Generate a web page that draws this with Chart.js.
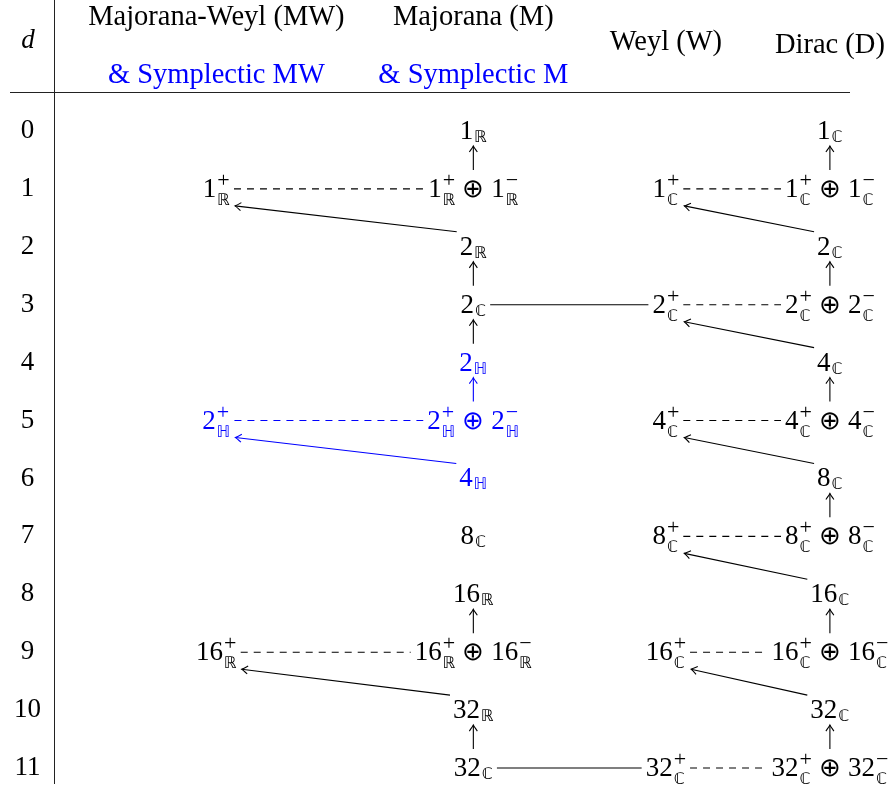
<!DOCTYPE html>
<html>
<head>
<meta charset="utf-8">
<script src="https://cdn.jsdelivr.net/npm/chart.js@4.4.1/dist/chart.umd.min.js"></script>
<style>
  html, body { margin: 0; padding: 0; background: #fff; }
  #wrap { width: 891px; height: 787px; }
</style>
</head>
<body>
<div id="wrap"><canvas id="chart"></canvas></div>
<script>
// rows of the table: spacetime dimension d
const dims = [0, 1, 2, 3, 4, 5, 6, 7, 8, 9, 10, 11];

// spinor content of each column, one entry per d (null = empty cell)
const mwSpinors = [null, '1_ℝ^+', null, null, null, '2_ℍ^+', null, null, null, '16_ℝ^+', null, null];
const mSpinors  = ['1_ℝ', '1_ℝ^+ ⊕ 1_ℝ^-', '2_ℝ', '2_ℂ', '2_ℍ', '2_ℍ^+ ⊕ 2_ℍ^-', '4_ℍ', '8_ℂ', '16_ℝ', '16_ℝ^+ ⊕ 16_ℝ^-', '32_ℝ', '32_ℂ'];
const wSpinors  = [null, '1_ℂ^+', null, '2_ℂ^+', null, '4_ℂ^+', null, '8_ℂ^+', null, '16_ℂ^+', null, '32_ℂ^+'];
const dSpinors  = ['1_ℂ', '1_ℂ^+ ⊕ 1_ℂ^-', '2_ℂ', '2_ℂ^+ ⊕ 2_ℂ^-', '4_ℂ', '4_ℂ^+ ⊕ 4_ℂ^-', '8_ℂ', '8_ℂ^+ ⊕ 8_ℂ^-', '16_ℂ', '16_ℂ^+ ⊕ 16_ℂ^-', '32_ℂ', '32_ℂ^+ ⊕ 32_ℂ^-'];

const columns    = ['MW', 'M', 'W', 'D'];
const headers    = ['Majorana-Weyl (MW)', 'Majorana (M)', 'Weyl (W)', 'Dirac (D)'];
const subHeaders = ['& Symplectic MW', '& Symplectic M', null, null];

// links between cells: [fromCol, fromD, toCol, toD]
const arrows = [
  ['M', 1, 'M', 0], ['M', 3, 'M', 2], ['M', 4, 'M', 3], ['M', 5, 'M', 4], ['M', 9, 'M', 8], ['M', 11, 'M', 10],
  ['D', 1, 'D', 0], ['D', 3, 'D', 2], ['D', 5, 'D', 4], ['D', 7, 'D', 6], ['D', 9, 'D', 8], ['D', 11, 'D', 10],
  ['M', 2, 'MW', 1], ['M', 6, 'MW', 5], ['M', 10, 'MW', 9],
  ['D', 2, 'W', 1], ['D', 4, 'W', 3], ['D', 6, 'W', 5], ['D', 8, 'W', 7], ['D', 10, 'W', 9]
];
const dashed = [
  ['MW', 1, 'M', 1], ['MW', 5, 'M', 5], ['MW', 9, 'M', 9],
  ['W', 1, 'D', 1], ['W', 3, 'D', 3], ['W', 5, 'D', 5], ['W', 7, 'D', 7], ['W', 9, 'D', 9], ['W', 11, 'D', 11]
];
const solid = [['M', 3, 'W', 3], ['M', 11, 'W', 11]];

// layout (not data)
const colX = { MW: 19.4, M: 50.1, W: 73.1, D: 92.7 };
const headY = [25, 25, 50, 53];
const subHeadY = 83;
const BLUE = '#0000ff';
const MAIN = '27px "Liberation Serif"';
const SUB = '16px "DejaVu Sans"';
const SUP = '22px "Liberation Serif"';
const OPF = '200 26px "DejaVu Sans"';
const HEAD = '28.5px "Liberation Serif"';
const OPGAP = 36;

const spinorCols = [mwSpinors, mSpinors, wSpinors, dSpinors];

function parseTerm(s) {
  const m = s.match(/^(\d+)_(.)(?:\^([+-]))?$/);
  return { num: m[1], field: m[2], sign: m[3] === '-' ? '\u2212' : m[3] };
}

function termWidth(ctx, t) {
  ctx.font = MAIN;
  const nw = ctx.measureText(t.num).width;
  ctx.font = SUB;
  const fw = ctx.measureText(t.field).width;
  ctx.font = SUP;
  const sw = t.sign ? ctx.measureText(t.sign).width : 0;
  return { nw: nw, w: nw + 1 + Math.max(fw, sw) };
}

function nodeInfo(ctx, text) {
  const terms = text.split(' ⊕ ').map(parseTerm);
  const widths = terms.map(t => termWidth(ctx, t));
  const w = widths.reduce((a, b) => a + b.w, 0) + OPGAP * (terms.length - 1);
  return { terms, widths, w, blue: text.indexOf('ℍ') >= 0 };
}

function drawNode(ctx, n, cx, cy) {
  const base = cy + 8;
  let x = cx - n.w / 2;
  ctx.fillStyle = n.blue ? BLUE : '#000';
  ctx.textAlign = 'left';
  ctx.textBaseline = 'alphabetic';
  n.terms.forEach((t, i) => {
    const tw = n.widths[i];
    ctx.font = MAIN;
    ctx.fillText(t.num, x, base);
    const sx = x + tw.nw + 1;
    ctx.font = SUB;
    ctx.fillText(t.field, sx, base + (t.sign ? 8 : 3));
    if (t.sign) {
      ctx.font = SUP;
      ctx.fillText(t.sign, sx, base - 10);
    }
    x += tw.w;
    if (i < n.terms.length - 1) {
      ctx.font = OPF;
      const m = ctx.measureText('⊕');
      const oy = cy + (m.actualBoundingBoxAscent - m.actualBoundingBoxDescent) / 2;
      ctx.fillText('⊕', x + OPGAP / 2 - m.width / 2, oy);
      x += OPGAP;
    }
  });
}

function arrowLine(ctx, x1, y1, x2, y2) {
  const dx = x2 - x1, dy = y2 - y1, len = Math.hypot(dx, dy);
  const ux = dx / len, uy = dy / len, nx = -uy, ny = ux;
  ctx.beginPath();
  ctx.moveTo(x1, y1);
  ctx.lineTo(x2, y2);
  ctx.stroke();
  const L = 6, W = 4;
  ctx.beginPath();
  ctx.moveTo(x2 - L * ux + W * nx, y2 - L * uy + W * ny);
  ctx.quadraticCurveTo(x2 - 1.5 * ux + 0.7 * nx, y2 - 1.5 * uy + 0.7 * ny, x2, y2);
  ctx.quadraticCurveTo(x2 - 1.5 * ux - 0.7 * nx, y2 - 1.5 * uy - 0.7 * ny, x2 - L * ux - W * nx, y2 - L * uy - W * ny);
  ctx.stroke();
}

const diagram = {
  id: 'diagram',
  afterDatasetsDraw(chart) {
    const ctx = chart.ctx;
    const area = chart.chartArea;
    const xs = chart.scales.x;
    ctx.save();

    // header rows
    ctx.textAlign = 'center';
    ctx.textBaseline = 'alphabetic';
    ctx.fillStyle = '#000';
    ctx.font = 'italic ' + MAIN;
    ctx.fillText('d', area.left / 2 + 1, area.top + 48);
    ctx.font = HEAD;
    headers.forEach((h, i) => {
      const x = xs.getPixelForValue(colX[columns[i]]);
      ctx.fillStyle = '#000';
      ctx.fillText(h, x, area.top + headY[i]);
      if (subHeaders[i]) {
        ctx.fillStyle = BLUE;
        ctx.fillText(subHeaders[i], x, area.top + subHeadY);
      }
    });
    ctx.strokeStyle = '#222';
    ctx.lineWidth = 1;
    ctx.beginPath();
    ctx.moveTo(10, area.top + 92.5);
    ctx.lineTo(850, area.top + 92.5);
    ctx.stroke();

    // cells, placed by the scales through each dataset's elements
    const nodes = {};
    chart.data.datasets.forEach((ds, i) => {
      const meta = chart.getDatasetMeta(i);
      meta.data.forEach((el, j) => {
        const p = ds.data[j];
        const n = nodeInfo(ctx, p.t);
        n.x = el.x; n.y = el.y;
        nodes[ds.label + ':' + p.y] = n;
        drawNode(ctx, n, el.x, el.y);
      });
    });

    ctx.lineWidth = 1.1;
    const colour = (a, b) => (a.blue && b.blue ? BLUE : '#000');

    solid.concat(dashed).forEach((e, k) => {
      const a = nodes[e[0] + ':' + e[1]], b = nodes[e[2] + ':' + e[3]];
      ctx.strokeStyle = colour(a, b);
      ctx.setLineDash(k >= solid.length ? [7, 6] : []);
      ctx.beginPath();
      ctx.moveTo(a.x + a.w / 2 + 4, a.y);
      ctx.lineTo(b.x - b.w / 2 - 4, b.y);
      ctx.stroke();
    });
    ctx.setLineDash([]);

    arrows.forEach(e => {
      const a = nodes[e[0] + ':' + e[1]], b = nodes[e[2] + ':' + e[3]];
      ctx.strokeStyle = colour(a, b);
      if (e[0] === e[2]) {
        arrowLine(ctx, a.x, a.y - 19, b.x, b.y + 15);
      } else {
        arrowLine(ctx, a.x - a.w / 2 - 3, a.y - 15, b.x + b.w / 2 + 5, b.y + 17);
      }
    });
    ctx.restore();
  }
};

new Chart(document.getElementById('chart'), {
  type: 'scatter',
  data: {
    datasets: columns.map((c, i) => ({
      label: c,
      data: dims.filter(d => spinorCols[i][d]).map(d => ({ x: colX[c], y: d, t: spinorCols[i][d] })),
      pointRadius: 0,
      showLine: false
    }))
  },
  options: {
    responsive: true,
    maintainAspectRatio: false,
    animation: false,
    events: [],
    layout: { padding: { top: 0, right: 0, bottom: 4, left: 0 } },
    plugins: { legend: { display: false }, tooltip: { enabled: false } },
    scales: {
      x: { type: 'linear', min: 0, max: 100, display: false },
      y: {
        type: 'linear',
        reverse: true,
        min: -2.262,
        max: 11.259,
        afterBuildTicks: s => { s.ticks = dims.map(v => ({ value: v })); },
        afterFit: s => { s.width = 54; s.paddingTop = 0; s.paddingBottom = 0; },
        grid: { display: false, drawTicks: false },
        border: { display: true, color: '#222', width: 1 },
        ticks: {
          autoSkip: false,
          crossAlign: 'center',
          padding: 13,
          color: '#000',
          font: { family: '"Liberation Serif"', size: 27 },
          callback: v => String(v)
        }
      }
    }
  },
  plugins: [diagram]
});
</script>
</body>
</html>
